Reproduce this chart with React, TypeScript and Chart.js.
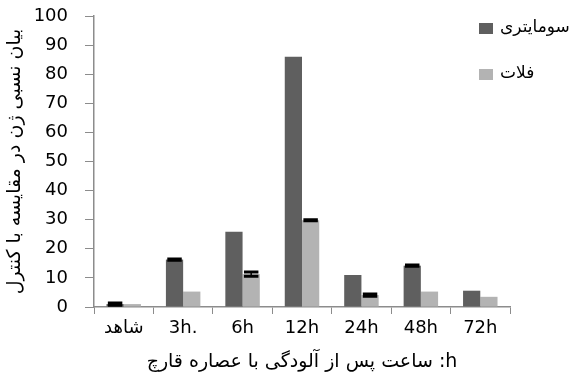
import React, { useEffect, useRef } from "react";
import { Chart, registerables } from "chart.js";

Chart.register(...registerables);

const categories = ["شاهد", "3h.", "6h", "12h", "24h", "48h", "72h"];
const somaValues = [1.0, 16.3, 25.9, 86, 11.0, 14.2, 5.6];
const falatValues = [1.0, 5.3, 11.3, 29.8, 4.1, 5.3, 3.5];
const somaErrors = [0.4, 0.2, null, null, null, 0.2, null];
const falatErrors = [null, null, 0.7, 0.2, 0.4, null, null];
const seriesNames = ["سومایتری", "فلات"];
const yTitle = "بیان نسبی ژن در مقایسه با کنترل";
const xTitle = "\u202Bh: ساعت پس از آلودگی با عصاره قارچ\u202C";

const DARK = "#5f5f5f";
const LIGHT = "#b3b3b3";
const AXIS = "#8c8c8c";

const errorBarPlugin = {
  id: "errorBars",
  afterDatasetsDraw(chart: any) {
    const ctx = chart.ctx;
    const yScale = chart.scales.y;
    chart.data.datasets.forEach((ds: any, i: number) => {
      const meta = chart.getDatasetMeta(i);
      const errs = ds.errors || [];
      meta.data.forEach((el: any, j: number) => {
        const e = errs[j];
        if (e == null) return;
        const v = ds.data[j];
        const yTop = yScale.getPixelForValue(v + e);
        const yBot = yScale.getPixelForValue(v - e);
        const half = el.width * 0.42;
        ctx.save();
        ctx.strokeStyle = "#000";
        ctx.lineWidth = 1.5;
        ctx.beginPath();
        ctx.moveTo(el.x, yTop);
        ctx.lineTo(el.x, yBot);
        ctx.stroke();
        ctx.lineWidth = 3;
        ctx.beginPath();
        ctx.moveTo(el.x - half, yTop);
        ctx.lineTo(el.x + half, yTop);
        ctx.moveTo(el.x - half, yBot);
        ctx.lineTo(el.x + half, yBot);
        ctx.stroke();
        ctx.restore();
      });
    });
  },
};

const legendPlugin = {
  id: "customLegend",
  afterDraw(chart: any) {
    const ctx = chart.ctx;
    const area = chart.chartArea;
    const x0 = area.right - 31;
    let y0 = area.top + 7;
    ctx.save();
    chart.data.datasets.forEach((ds: any) => {
      ctx.fillStyle = ds.backgroundColor;
      ctx.fillRect(x0, y0, 14, 11);
      ctx.fillStyle = "#000";
      ctx.font = "17px 'DejaVu Sans'";
      ctx.textAlign = "left";
      ctx.textBaseline = "middle";
      ctx.fillText(ds.label, x0 + 21, y0 + 5);
      y0 += 46;
    });
    ctx.restore();
  },
};

export default function App() {
  const ref = useRef<HTMLCanvasElement>(null);
  useEffect(() => {
    document.body.style.margin = "0";
    const chart = new Chart(ref.current as HTMLCanvasElement, {
      type: "bar",
      data: {
        labels: categories,
        datasets: [
          {
            label: seriesNames[0],
            data: somaValues,
            backgroundColor: DARK,
            errors: somaErrors,
            barPercentage: 1.0,
            categoryPercentage: 0.58,
          } as any,
          {
            label: seriesNames[1],
            data: falatValues,
            backgroundColor: LIGHT,
            errors: falatErrors,
            barPercentage: 1.0,
            categoryPercentage: 0.58,
          } as any,
        ],
      },
      options: {
        animation: false,
        responsive: false,
        devicePixelRatio: 1,
        layout: { padding: { top: 16, right: 63, bottom: 6, left: 0 } },
        plugins: {
          legend: { display: false },
          tooltip: { enabled: false },
        },
        scales: {
          x: {
            grid: {
              display: true,
              drawOnChartArea: false,
              offset: true,
              tickLength: 7,
              color: AXIS,
            },
            border: { color: AXIS, width: 1.5 },
            ticks: {
              color: "#000",
              font: { family: "'DejaVu Sans'", size: 18 },
              padding: 4,
              maxRotation: 0,
            },
            title: {
              display: true,
              text: xTitle,
              color: "#000",
              font: { family: "'DejaVu Sans'", size: 19 },
              padding: { top: 4, bottom: 4 },
            },
            afterFit(scale: any) {
              scale.height = 70;
              scale.paddingLeft = 0;
              scale.paddingRight = 0;
            },
          },
          y: {
            min: 0,
            max: 100,
            grid: {
              display: true,
              drawOnChartArea: false,
              tickLength: 9,
              color: AXIS,
            },
            border: { color: AXIS, width: 1.5 },
            ticks: {
              stepSize: 10,
              color: "#000",
              font: { family: "'DejaVu Sans'", size: 18 },
              padding: 17,
            },
            title: {
              display: true,
              text: yTitle,
              color: "#000",
              font: { family: "'DejaVu Sans'", size: 19 },
              padding: { top: 4, bottom: 0 },
            },
            afterFit(scale: any) {
              scale.width = 94;
              scale.paddingTop = 0;
              scale.paddingBottom = 0;
            },
          },
        },
      } as any,
      plugins: [errorBarPlugin, legendPlugin],
    });
    return () => chart.destroy();
  }, []);
  return (
    <div style={{ width: 573, height: 383, background: "#fff" }}>
      <canvas ref={ref} width={573} height={383} />
    </div>
  );
}
